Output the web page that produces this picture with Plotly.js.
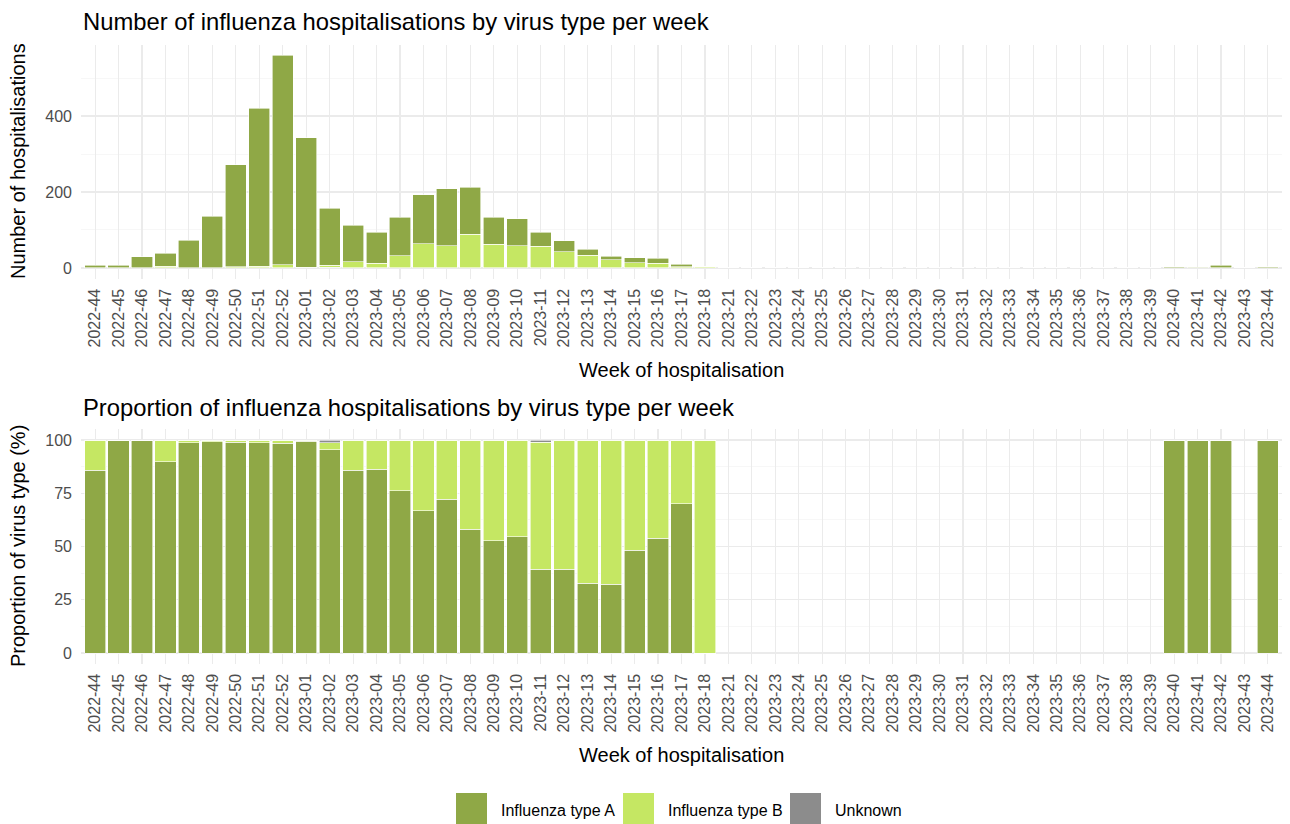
<!DOCTYPE html>
<html><head><meta charset="utf-8">
<script src="https://cdn.plot.ly/plotly-3.0.1.min.js"></script>
<style>html,body{margin:0;padding:0;background:#fff}</style>
</head><body><div id="chart" style="width:1290px;height:824px"></div>
<script>
const weeks = ['2022-44','2022-45','2022-46','2022-47','2022-48','2022-49','2022-50','2022-51','2022-52',
  '2023-01','2023-02','2023-03','2023-04','2023-05','2023-06','2023-07','2023-08','2023-09','2023-10',
  '2023-11','2023-12','2023-13','2023-14','2023-15','2023-16','2023-17','2023-18',
  '2023-21','2023-22','2023-23','2023-24','2023-25','2023-26','2023-27','2023-28','2023-29','2023-30',
  '2023-31','2023-32','2023-33','2023-34','2023-35','2023-36','2023-37','2023-38','2023-39',
  '2023-40','2023-41','2023-42','2023-43','2023-44'];
const fluA = [6,7,29,35,72,135,269,415,552,
  341,150,96,81,102,129,150,123,70,71,37,28,16,10,13,14,7,0,
  0,0,0,0,0,0,0,0,0,0,0,0,0,0,0,0,0,0,0,
  3,2,7,0,3];
const fluB = [1,0,0,4,1,1,3,5,8,
  2,5,16,13,32,64,58,89,63,59,56,43,33,21,14,12,3,3,
  0,0,0,0,0,0,0,0,0,0,0,0,0,0,0,0,0,0,0,
  0,0,0,0,0];
const unknown = [0,0,0,0,0,0,0,0,0,
  0,2,0,0,0,0,0,0,0,0,1,0,0,0,0,0,0,0,
  0,0,0,0,0,0,0,0,0,0,0,0,0,0,0,0,0,0,0,
  0,0,0,0,0];
const seriesNames = ['Influenza type A','Influenza type B','Unknown'];
const seriesColors = ['#8FA846','#C5E763','#8C8C8C'];

const totals = weeks.map((w,i)=>fluA[i]+fluB[i]+unknown[i]);
const pct = arr => arr.map((v,i)=> totals[i] > 0 ? v/totals[i]*100 : null);
const pctA = pct(fluA), pctB = pct(fluB), pctU = pct(unknown);

const FONT = "'Liberation Sans', Arial, Helvetica, sans-serif";
const barLine = {color:'#FFFFFF', width:0.6};
function bar(y, idx, xa, ya){
  return {type:'bar', x:weeks, y:y, name:seriesNames[idx], xaxis:xa, yaxis:ya,
    marker:{color:seriesColors[idx], line:barLine}, showlegend:false,
    hovertemplate:'%{x}: %{y}<extra>'+seriesNames[idx]+'</extra>'};
}
const data = [
  bar(unknown,2,'x','y'), bar(fluB,1,'x','y'), bar(fluA,0,'x','y'),
  bar(pctA,0,'x2','y2'), bar(pctB,1,'x2','y2'), bar(pctU,2,'x2','y2')
];

const W=1290,H=824,L=81,R=8,PW=W-L-R;
const px = x => (x-L)/PW;
const py = y => 1 - y/H;

const xaxisBase = {type:'category', categoryorder:'array', categoryarray:weeks,
  range:[-0.6, weeks.length-0.4], tickangle:-90, tickfont:{family:FONT,size:16,color:'#4D4D4D'},
  showgrid:true, gridcolor:'#EBEBEB', gridwidth:1.1, zeroline:false, showline:false, ticks:'',
  ticklabelstandoff:6, fixedrange:true};
const gridMinor = {showgrid:true, gridcolor:'#F2F2F2', gridwidth:0.6};

const annotations = [
  {text:'Number of influenza hospitalisations by virus type per week', x:0, y:py(22)},
  {text:'Proportion of influenza hospitalisations by virus type per week', x:0, y:py(407)}
].map(a=>Object.assign({xref:'paper',yref:'paper',xanchor:'left',yanchor:'middle',showarrow:false,
   font:{family:FONT,size:23.8,color:'#000'}},a));
[['Week of hospitalisation',0.5,py(370),0],['Week of hospitalisation',0.5,py(755),0],
 ['Number of hospitalisations',px(18),py(161),-90],['Proportion of virus type (%)',px(18),py(546),-90]]
 .forEach(([t,x,y,ang])=>annotations.push({text:t,x:x,y:y,xref:'paper',yref:'paper',xanchor:'center',
   yanchor:'middle',textangle:ang,showarrow:false,font:{family:FONT,size:20,color:'#000'}}));

const shapes = [];
const legendKeyX = [456,623,790];
seriesNames.forEach((n,i)=>{
  shapes.push({type:'rect',xref:'paper',yref:'paper',x0:px(legendKeyX[i]),x1:px(legendKeyX[i]+31),
    y0:py(824),y1:py(793),fillcolor:seriesColors[i],line:{width:0}});
  annotations.push({text:n,xref:'paper',yref:'paper',x:px(legendKeyX[i]+43),y:py(810),xanchor:'left',
    yanchor:'middle',showarrow:false,font:{family:FONT,size:16,color:'#000'}});
});

const layout = {
  width:W, height:H, margin:{l:L,r:R,t:0,b:0}, paper_bgcolor:'#fff', plot_bgcolor:'#fff',
  barmode:'stack', bargap:0.1, showlegend:false, font:{family:FONT},
  xaxis:Object.assign({},xaxisBase,{anchor:'y',domain:[0,1]}),
  xaxis2:Object.assign({},xaxisBase,{anchor:'y2',domain:[0,1]}),
  yaxis:{domain:[py(278.6),py(44.6)], range:[-28,588], tickmode:'linear', tick0:0, dtick:200,
    minor:Object.assign({dtick:100},gridMinor), showgrid:true, gridcolor:'#EBEBEB', gridwidth:1.1,
    zeroline:false, ticks:'', ticklabelstandoff:8, tickfont:{family:FONT,size:16,color:'#4D4D4D'}, fixedrange:true},
  yaxis2:{domain:[py(663.65),py(429.35)], range:[-5,105], tickmode:'linear', tick0:0, dtick:25,
    minor:Object.assign({dtick:12.5},gridMinor), showgrid:true, gridcolor:'#EBEBEB', gridwidth:1.1,
    zeroline:false, ticks:'', ticklabelstandoff:8, tickfont:{family:FONT,size:16,color:'#4D4D4D'}, fixedrange:true},
  annotations:annotations, shapes:shapes
};
Plotly.newPlot('chart', data, layout, {displayModeBar:false, staticPlot:true});
</script></body></html>
